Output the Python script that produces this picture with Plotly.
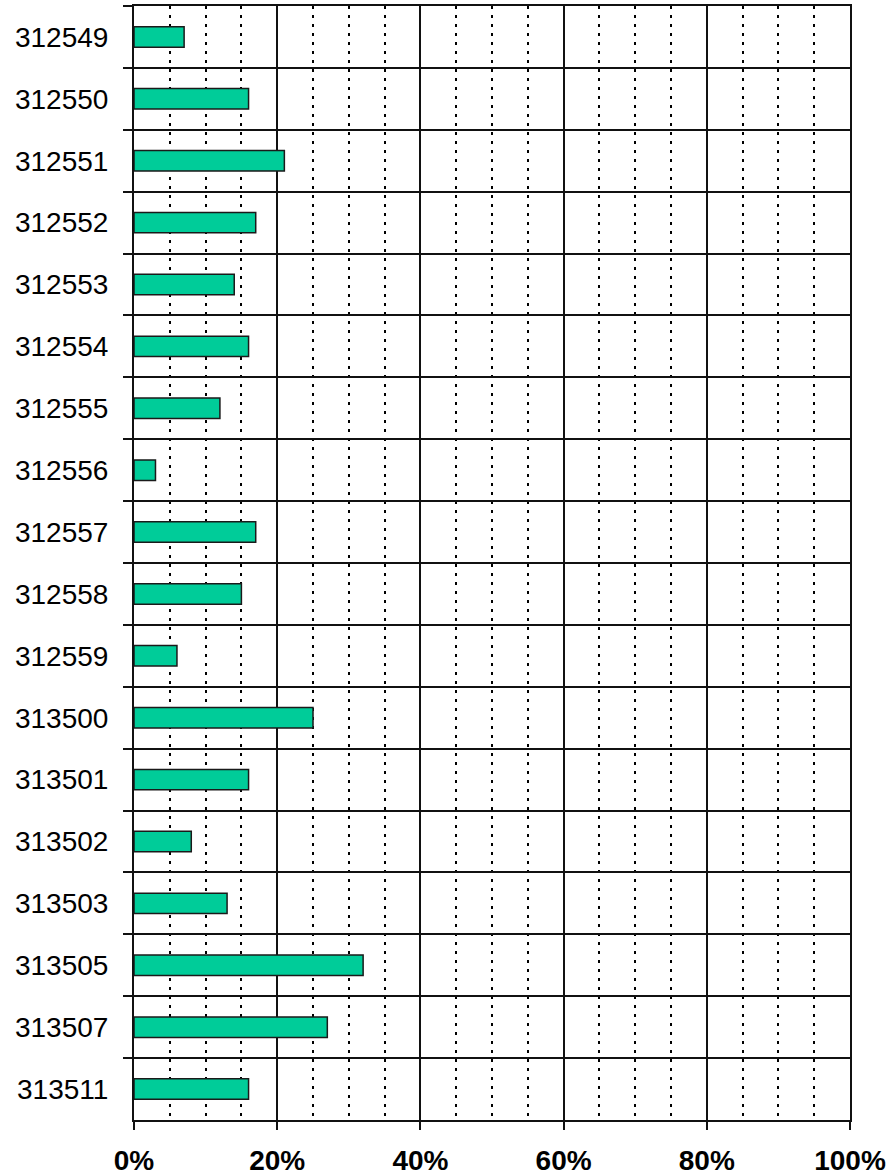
import plotly.graph_objects as go

categories = ["312549", "312550", "312551", "312552", "312553", "312554",
              "312555", "312556", "312557", "312558", "312559", "313500",
              "313501", "313502", "313503", "313505", "313507", "313511"]
values = [7, 16, 21, 17, 14, 16, 12, 3, 17, 15, 6, 25, 16, 8, 13, 32, 27, 16]
x_tick_vals = [0, 20, 40, 60, 80, 100]
x_tick_text = ["0%", "20%", "40%", "60%", "80%", "100%"]

fig = go.Figure()
fig.add_trace(go.Bar(
    x=values, y=categories, orientation="h",
    marker=dict(color="#00CC99", line=dict(color="#1a1a1a", width=1.5)),
    width=0.33,
))

fig.update_layout(
    width=892, height=1176,
    margin=dict(l=134, r=42, t=6, b=56, autoexpand=False),
    paper_bgcolor="white", plot_bgcolor="white",
    showlegend=False,
    font=dict(family="Liberation Sans, Arial, sans-serif", color="black"),
)
fig.update_xaxes(
    range=[0, 100], tickvals=x_tick_vals, ticktext=x_tick_text,
    tickfont=dict(size=28, family="Liberation Sans, Arial, sans-serif", weight="bold"),
    showgrid=True, gridcolor="#111111", gridwidth=1.5,
    showline=True, linecolor="#111111", linewidth=1.5, mirror=True,
    ticks="outside", ticklen=8, tickwidth=1.5, tickcolor="#111111",
    ticklabelstandoff=7, automargin=False,
    zeroline=False,
    minor=dict(dtick=5, tick0=0, showgrid=True, gridcolor="black",
               gridwidth=2, griddash="3px,6px", ticks=""),
)
fig.update_yaxes(
    categoryorder="array", categoryarray=categories, autorange="reversed",
    tickson="boundaries", ticks="outside", ticklen=9, tickwidth=1.5, tickcolor="#111111",
    showgrid=True, gridcolor="#111111", gridwidth=1.5,
    showline=True, linecolor="#111111", linewidth=2, mirror=True,
    tickfont=dict(size=28, family="Liberation Sans, Arial, sans-serif"),
    ticklabelstandoff=18, automargin=False,
)

fig.write_html("out.html", config={"displayModeBar": False},
               post_script="document.body.style.margin='0';document.body.style.padding='0';")
